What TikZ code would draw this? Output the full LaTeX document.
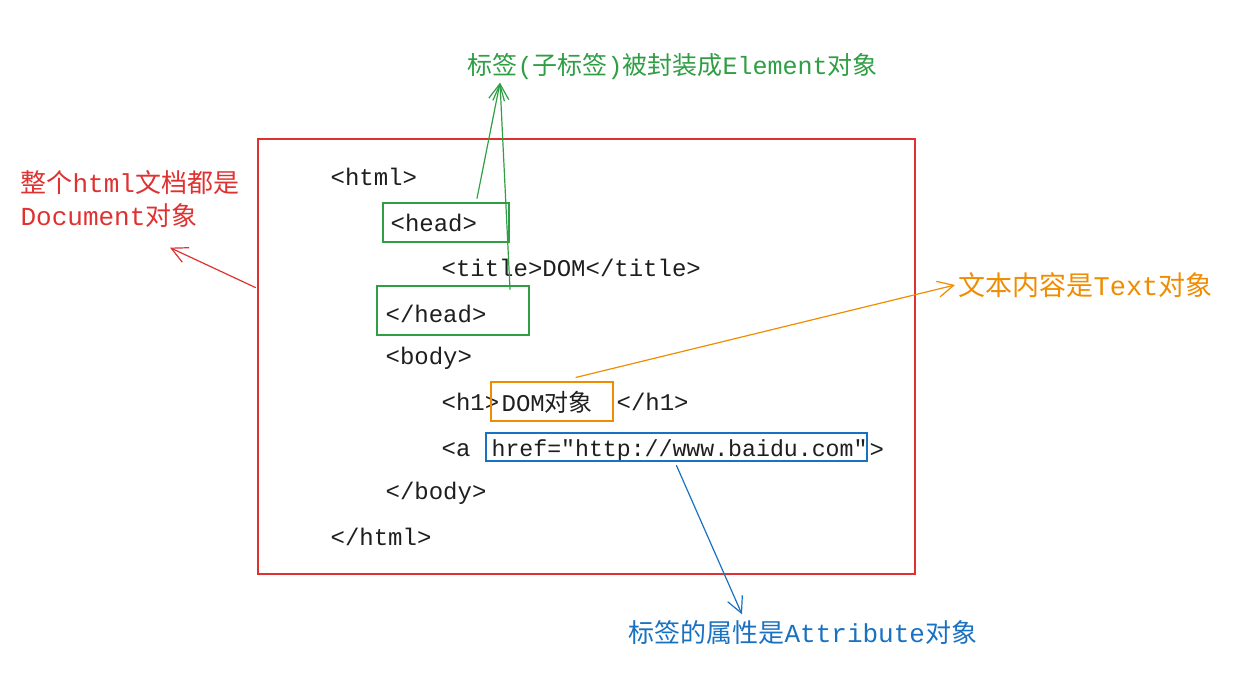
\documentclass[tikz,border=0pt]{standalone}
\usepackage{fontspec}
\usetikzlibrary{arrows.meta}
\setmainfont{Liberation Mono}[Ligatures=TeXOff]
\newfontfamily\cjk{Noto Sans CJK SC}
\definecolor{ink}{HTML}{1E1E1E}
\definecolor{exred}{HTML}{E03131}
\definecolor{exgreen}{HTML}{2F9E44}
\definecolor{exorange}{HTML}{F08C00}
\definecolor{exblue}{HTML}{1971C2}

\begin{document}
\begin{tikzpicture}[
  x=1pt, y=-1pt, line width=1.2pt,
  code/.style={anchor=west,inner sep=0pt,text=ink,font=\fontsize{24}{28}\selectfont},
  note/.style={anchor=west,inner sep=0pt,font=\fontsize{#1}{33}\selectfont},
  frame/.style={draw=#1,rectangle,inner sep=0pt},
  link/.style={draw=#1,-{Straight Barb[length=16pt,width=16pt]},line cap=round}
]
  \useasboundingbox (0,0) rectangle (1249,682);
  % document frame
  \node[frame=exred,minimum width=657,minimum height=435] (doc) at (586.5,356.5) {};
  % code lines
  \node[code] (html) at (330,177) {<html>};
  \node[code] (head) at (390,223) {<head>};
  \node[code] (title) at (441,268) {<title>DOM</title>};
  \node[code] (headend) at (385,314) {</head>};
  \node[code] (body) at (385,358) {<body>};
  \node[code] (h1open) at (441,402) {<h1>};
  \node[code] (h1txt) at (501,402) {DOM{\cjk 对象}};
  \node[code] (h1close) at (616,402) {</h1>};
  \node[code] (aopen) at (441,450) {<a};
  \node[code,font=\fontsize{23.2}{28}\selectfont] (href) at (491,450) {href="http://www.baidu.com"};
  \node[code] (aclose) at (869,450) {>};
  \node[code] (bodyend) at (385,493) {</body>};
  \node[code] (htmlend) at (330,537) {</html>};
  % boxes
  \node[frame=exgreen,minimum width=126,minimum height=39] (headbox) at (446,222.5) {};
  \node[frame=exgreen,minimum width=152,minimum height=49] (headendbox) at (453,310.5) {};
  \node[frame=exorange,minimum width=122,minimum height=39] (textbox) at (552,401.5) {};
  \node[frame=exblue,minimum width=381,minimum height=28] (attrbox) at (676.5,447) {};
  % labels
  \node[note=25,text=exgreen] (elabel) at (467,67) {{\cjk 标签}({\cjk 子标签}){\cjk 被封装成}Element{\cjk 对象}};
  \node[note=26,text=exred,align=left] (dlabel) at (20,199.5) {{\cjk 整个}html{\cjk 文档都是}\\Document{\cjk 对象}};
  \node[note=27,text=exorange] (tlabel) at (958,285) {{\cjk 文本内容是}Text{\cjk 对象}};
  \node[note=26,text=exblue] (alabel) at (628,633) {{\cjk 标签的属性是}Attribute{\cjk 对象}};
  % arrows
  \draw[link=exgreen] ([xshift=31pt,yshift=4pt]headbox.north) -- ([xshift=33pt,yshift=-2pt]elabel.south west);
  \draw[link=exgreen] ([xshift=57pt,yshift=-4pt]headendbox.north) -- ([xshift=33pt,yshift=-2pt]elabel.south west);
  \draw[link=exred] ([xshift=-2pt,yshift=69pt]doc.west) -- ([xshift=150pt,yshift=-19pt]dlabel.south west);
  \draw[link=exorange] ([xshift=24pt,yshift=4pt]textbox.north) -- ([xshift=-3pt]tlabel.west);
  \draw[link=exblue] ([yshift=-4pt]attrbox.south) -- ([xshift=114pt,yshift=6pt]alabel.north west);
\end{tikzpicture}
\end{document}
